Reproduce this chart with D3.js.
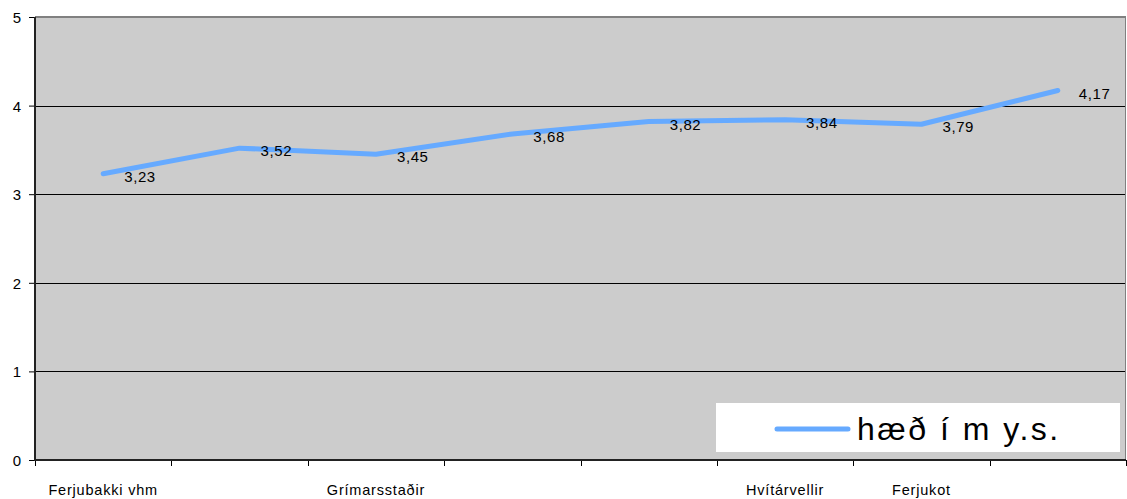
<!DOCTYPE html>
<html>
<head>
<meta charset="utf-8">
<script src="https://cdn.jsdelivr.net/npm/d3@7"></script>
<style>
  html, body { margin: 0; padding: 0; background: #ffffff; }
  svg { display: block; font-family: "Liberation Sans", Arial, sans-serif; }
</style>
</head>
<body>
<svg id="chart" width="1127" height="499"></svg>
<script>
// Stations along the route (only some names are printed on the axis)
const categories = ["st1", "st2", "st3", "st4", "st5", "st6", "st7", "st8"];
const tickLabels = ["Ferjubakki vhm", "", "Grímarsstaðir", "", "", "Hvítárvellir", "Ferjukot", ""];
// Elevation in metres above sea level
const values = [3.23, 3.52, 3.45, 3.68, 3.82, 3.84, 3.79, 4.17];
const yTicks = [0, 1, 2, 3, 4, 5];
const seriesName = "hæð í m y.s.";

const W = 1127, H = 499;
const margin = { top: 17, right: 1, bottom: 39, left: 35 };
const innerW = W - margin.left - margin.right;
const innerH = H - margin.top - margin.bottom;

const svg = d3.select("#chart");
const g = svg.append("g").attr("transform", `translate(${margin.left},${margin.top})`);

const x = d3.scaleBand().domain(categories).range([0, innerW]).padding(0);
const y = d3.scaleLinear().domain([0, 5]).range([innerH, 0]);
const fmt = v => d3.format(".2f")(v).replace(".", ",");

// plot background
g.append("rect").attr("x", 0).attr("y", 0).attr("width", innerW).attr("height", innerH)
  .attr("fill", "#cccccc");

// horizontal gridlines
g.selectAll("line.grid").data(yTicks.filter(t => t > 0 && t < 5)).join("line")
  .attr("class", "grid")
  .attr("x1", 0).attr("x2", innerW)
  .attr("y1", d => Math.round(y(d)) + 0.5).attr("y2", d => Math.round(y(d)) + 0.5)
  .attr("stroke", "#000000").attr("stroke-width", 1);

// frame: grey top and right edges
g.append("line").attr("x1", 0).attr("x2", innerW).attr("y1", 0).attr("y2", 0)
  .attr("stroke", "#808080").attr("stroke-width", 2);
g.append("line").attr("x1", innerW - 0.5).attr("x2", innerW - 0.5).attr("y1", 0).attr("y2", innerH)
  .attr("stroke", "#808080").attr("stroke-width", 1);

// y axis
const yAxis = d3.axisLeft(y).tickValues(yTicks).tickSize(6).tickPadding(8).tickFormat(d3.format("d"));
const ya = g.append("g").call(yAxis);
ya.select(".domain").remove();
ya.selectAll(".tick line").attr("stroke", "#000");
ya.selectAll(".tick text").attr("font-size", 15).attr("fill", "#000")
  .attr("font-family", "Liberation Sans, Arial, sans-serif").attr("dy", "0.36em");
g.append("line").attr("x1", 0).attr("x2", 0).attr("y1", 0).attr("y2", innerH + 1)
  .attr("stroke", "#222").attr("stroke-width", 2);

// x axis: ticks at category boundaries
const boundaries = categories.map(c => x(c)).concat([innerW]);
g.selectAll("line.xtick").data(boundaries).join("line")
  .attr("class", "xtick")
  .attr("x1", d => Math.round(d) + 0.5).attr("x2", d => Math.round(d) + 0.5)
  .attr("y1", innerH).attr("y2", innerH + 6)
  .attr("stroke", "#000");
g.append("line").attr("x1", 0).attr("x2", innerW).attr("y1", innerH).attr("y2", innerH)
  .attr("stroke", "#222").attr("stroke-width", 2);
g.selectAll("text.xlabel").data(categories).join("text")
  .attr("class", "xlabel")
  .attr("x", d => x(d) + x.bandwidth() / 2)
  .attr("y", innerH + 35)
  .attr("text-anchor", "middle")
  .attr("font-size", 14.5)
  .attr("letter-spacing", 0.8)
  .attr("fill", "#000")
  .text((d, i) => tickLabels[i]);

// series line
const line = d3.line()
  .x((d, i) => x(categories[i]) + x.bandwidth() / 2)
  .y(d => y(d));
g.append("path").datum(values)
  .attr("d", line)
  .attr("fill", "none")
  .attr("stroke", "#66aaff")
  .attr("stroke-width", 5)
  .attr("stroke-linejoin", "round")
  .attr("stroke-linecap", "round");

// value labels
g.selectAll("text.val").data(values).join("text")
  .attr("class", "val")
  .attr("x", (d, i) => x(categories[i]) + x.bandwidth() / 2 + 21)
  .attr("y", d => y(d) + 8)
  .attr("font-size", 15)
  .attr("letter-spacing", 0.6)
  .attr("fill", "#000")
  .text(d => fmt(d));

// legend
const lg = svg.append("g").attr("transform", "translate(716,403)");
lg.append("rect").attr("width", 404).attr("height", 49).attr("fill", "#ffffff");
lg.append("line").attr("x1", 61).attr("x2", 132).attr("y1", 26).attr("y2", 26)
  .attr("stroke", "#66aaff").attr("stroke-width", 5).attr("stroke-linecap", "round");
lg.append("text").attr("x", 141).attr("y", 37)
  .attr("font-size", 32).attr("letter-spacing", 2.5).attr("fill", "#000")
  .text(seriesName);
</script>
</body>
</html>
